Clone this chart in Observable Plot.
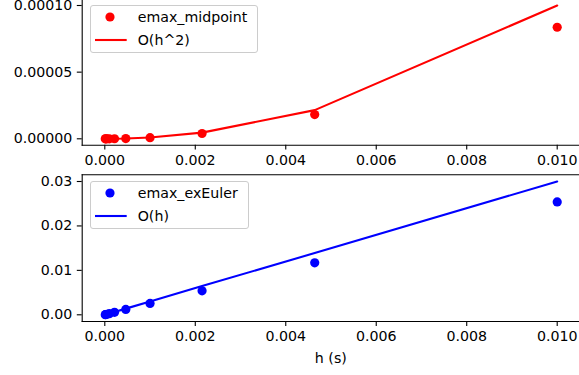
<!DOCTYPE html>
<html>
<head>
<meta charset="utf-8">
<script src="https://cdn.jsdelivr.net/npm/d3@7"></script>
<script src="https://cdn.jsdelivr.net/npm/@observablehq/plot@0.6"></script>
<style>
  html, body { margin: 0; padding: 0; background: #fff; }
  #wrap { position: relative; width: 579px; height: 375px; overflow: hidden; font-family: "DejaVu Sans", sans-serif; }
  #wrap svg { position: absolute; left: 0; }
  .legend { position: absolute; box-sizing: border-box; border: 1px solid #cccccc; border-radius: 3px; background: rgba(255,255,255,0.8); }
</style>
</head>
<body>
<div id="wrap"></div>
<script>
// ---- data ----
const h = [0.00001, 0.0000215, 0.0000464, 0.0001, 0.000215, 0.000464, 0.001, 0.00215, 0.00464, 0.01];
const emaxMidpoint = [8.4e-11, 3.9e-10, 1.8e-9, 8.4e-9, 3.9e-8, 1.8e-7, 8.4e-7, 3.97e-6, 1.82e-5, 8.37e-5];
const orderH2 = [1e-10, 4.64e-10, 2.15e-9, 1e-8, 4.64e-8, 2.15e-7, 1e-6, 4.64e-6, 2.15e-5, 1e-4];
const emaxExEuler = [0.000026, 0.000056, 0.00012, 0.00026, 0.00056, 0.0012, 0.00255, 0.0054, 0.0117, 0.0254];
const orderH = [0.00003, 0.0000646, 0.000139, 0.0003, 0.000646, 0.00139, 0.003, 0.00646, 0.0139, 0.03];

const xTicks = [0, 0.002, 0.004, 0.006, 0.008, 0.010];
const xTickLabels = ["0.000", "0.002", "0.004", "0.006", "0.008", "0.010"];
const yTopTicks = [0, 0.00005, 0.0001];
const yTopLabels = ["0.00000", "0.00005", "0.00010"];
const yBottomTicks = [0, 0.01, 0.02, 0.03];
const yBottomLabels = ["0.00", "0.01", "0.02", "0.03"];
const xLabel = "h (s)";
const legendTop = ["emax_midpoint", "O(h^2)"];
const legendBottom = ["emax_exEuler", "O(h)"];

// ---- tables ----
const topRows = h.map((v, i) => ({h: v, e: emaxMidpoint[i], o: orderH2[i]}));
const botRows = h.map((v, i) => ({h: v, e: emaxExEuler[i], o: orderH[i]}));

const fmt = (ticks, labels) => d => labels[ticks.indexOf(d)];
const fontSize = "14.2px";
const plotStyle = {fontFamily: "DejaVu Sans, sans-serif", fontSize, color: "#000", background: "transparent", overflow: "visible"};
const red = "#ff0000", blue = "#0000ff";
const dotR = 4.6;

const topChart = Plot.plot({
  width: 579, height: 166,
  marginLeft: 81.7, marginRight: 0, marginTop: 0, marginBottom: 21.3,
  style: plotStyle,
  x: {domain: [0, 0.01], range: [104.3, 556.7]},
  y: {domain: [0, 0.0001], range: [138.3, 5]},
  marks: [
    Plot.frame({anchor: "left", strokeWidth: 1.1}),
    Plot.frame({anchor: "bottom", strokeWidth: 1.1}),
    Plot.axisX({ticks: xTicks, tickFormat: fmt(xTicks, xTickLabels), tickSize: 4.9, tickPadding: 4.5, label: null, strokeWidth: 1.1}),
    Plot.axisY({ticks: yTopTicks, tickFormat: fmt(yTopTicks, yTopLabels), tickSize: 4.9, tickPadding: 4.9, label: null, strokeWidth: 1.1}),
    Plot.dot(topRows, {x: "h", y: "e", r: dotR, fill: red, stroke: "none"}),
    Plot.line(topRows, {x: "h", y: "o", stroke: red, strokeWidth: 2.1})
  ]
});
topChart.style.top = "0px";

const bottomChart = Plot.plot({
  width: 579, height: 209,
  marginLeft: 81.7, marginRight: 0, marginTop: 8.3, marginBottom: 54,
  style: plotStyle,
  x: {domain: [0, 0.01], range: [104.3, 556.7]},
  y: {domain: [0, 0.03], range: [148.3, 15]},
  marks: [
    Plot.frame({anchor: "left", strokeWidth: 1.1}),
    Plot.frame({anchor: "bottom", strokeWidth: 1.1}),
    Plot.frame({anchor: "top", strokeWidth: 1.1}),
    Plot.axisX({ticks: xTicks, tickFormat: fmt(xTicks, xTickLabels), tickSize: 4.9, tickPadding: 4.5, label: null, strokeWidth: 1.1}),
    Plot.axisY({ticks: yBottomTicks, tickFormat: fmt(yBottomTicks, yBottomLabels), tickSize: 4.9, tickPadding: 4.9, label: null, strokeWidth: 1.1}),
    Plot.dot(botRows, {x: "h", y: "e", r: dotR, fill: blue, stroke: "none"}),
    Plot.line(botRows, {x: "h", y: "o", stroke: blue, strokeWidth: 2.1}),
    Plot.text([xLabel], {frameAnchor: "bottom", text: d => d, dy: 37, lineAnchor: "middle", textAnchor: "middle", fill: "#000"})
  ]
});
bottomChart.style.top = "166px";

const wrap = document.getElementById("wrap");
wrap.appendChild(topChart);
wrap.appendChild(bottomChart);

function legend(left, topPx, width, labels, color) {
  const div = document.createElement("div");
  div.className = "legend";
  div.style.left = left + "px";
  div.style.top = topPx + "px";
  div.style.width = width + "px";
  div.style.height = "48px";
  const svg = d3.create("svg").attr("width", width).attr("height", 48)
    .style("position", "absolute").style("left", "-1px").style("top", "-1px")
    .style("font-family", "DejaVu Sans, sans-serif").style("font-size", fontSize);
  svg.append("circle").attr("cx", 20).attr("cy", 12).attr("r", dotR).attr("fill", color);
  svg.append("line").attr("x1", 5).attr("x2", 36.7).attr("y1", 35).attr("y2", 35).attr("stroke", color).attr("stroke-width", 2.1);
  svg.append("text").attr("x", 47.7).attr("y", 12).attr("dy", "0.35em").text(labels[0]);
  svg.append("text").attr("x", 47.7).attr("y", 35).attr("dy", "0.35em").text(labels[1]);
  div.appendChild(svg.node());
  wrap.appendChild(div);
}
legend(90, 5.3, 168, legendTop, red);
legend(90, 181, 158.5, legendBottom, blue);
</script>
</body>
</html>
